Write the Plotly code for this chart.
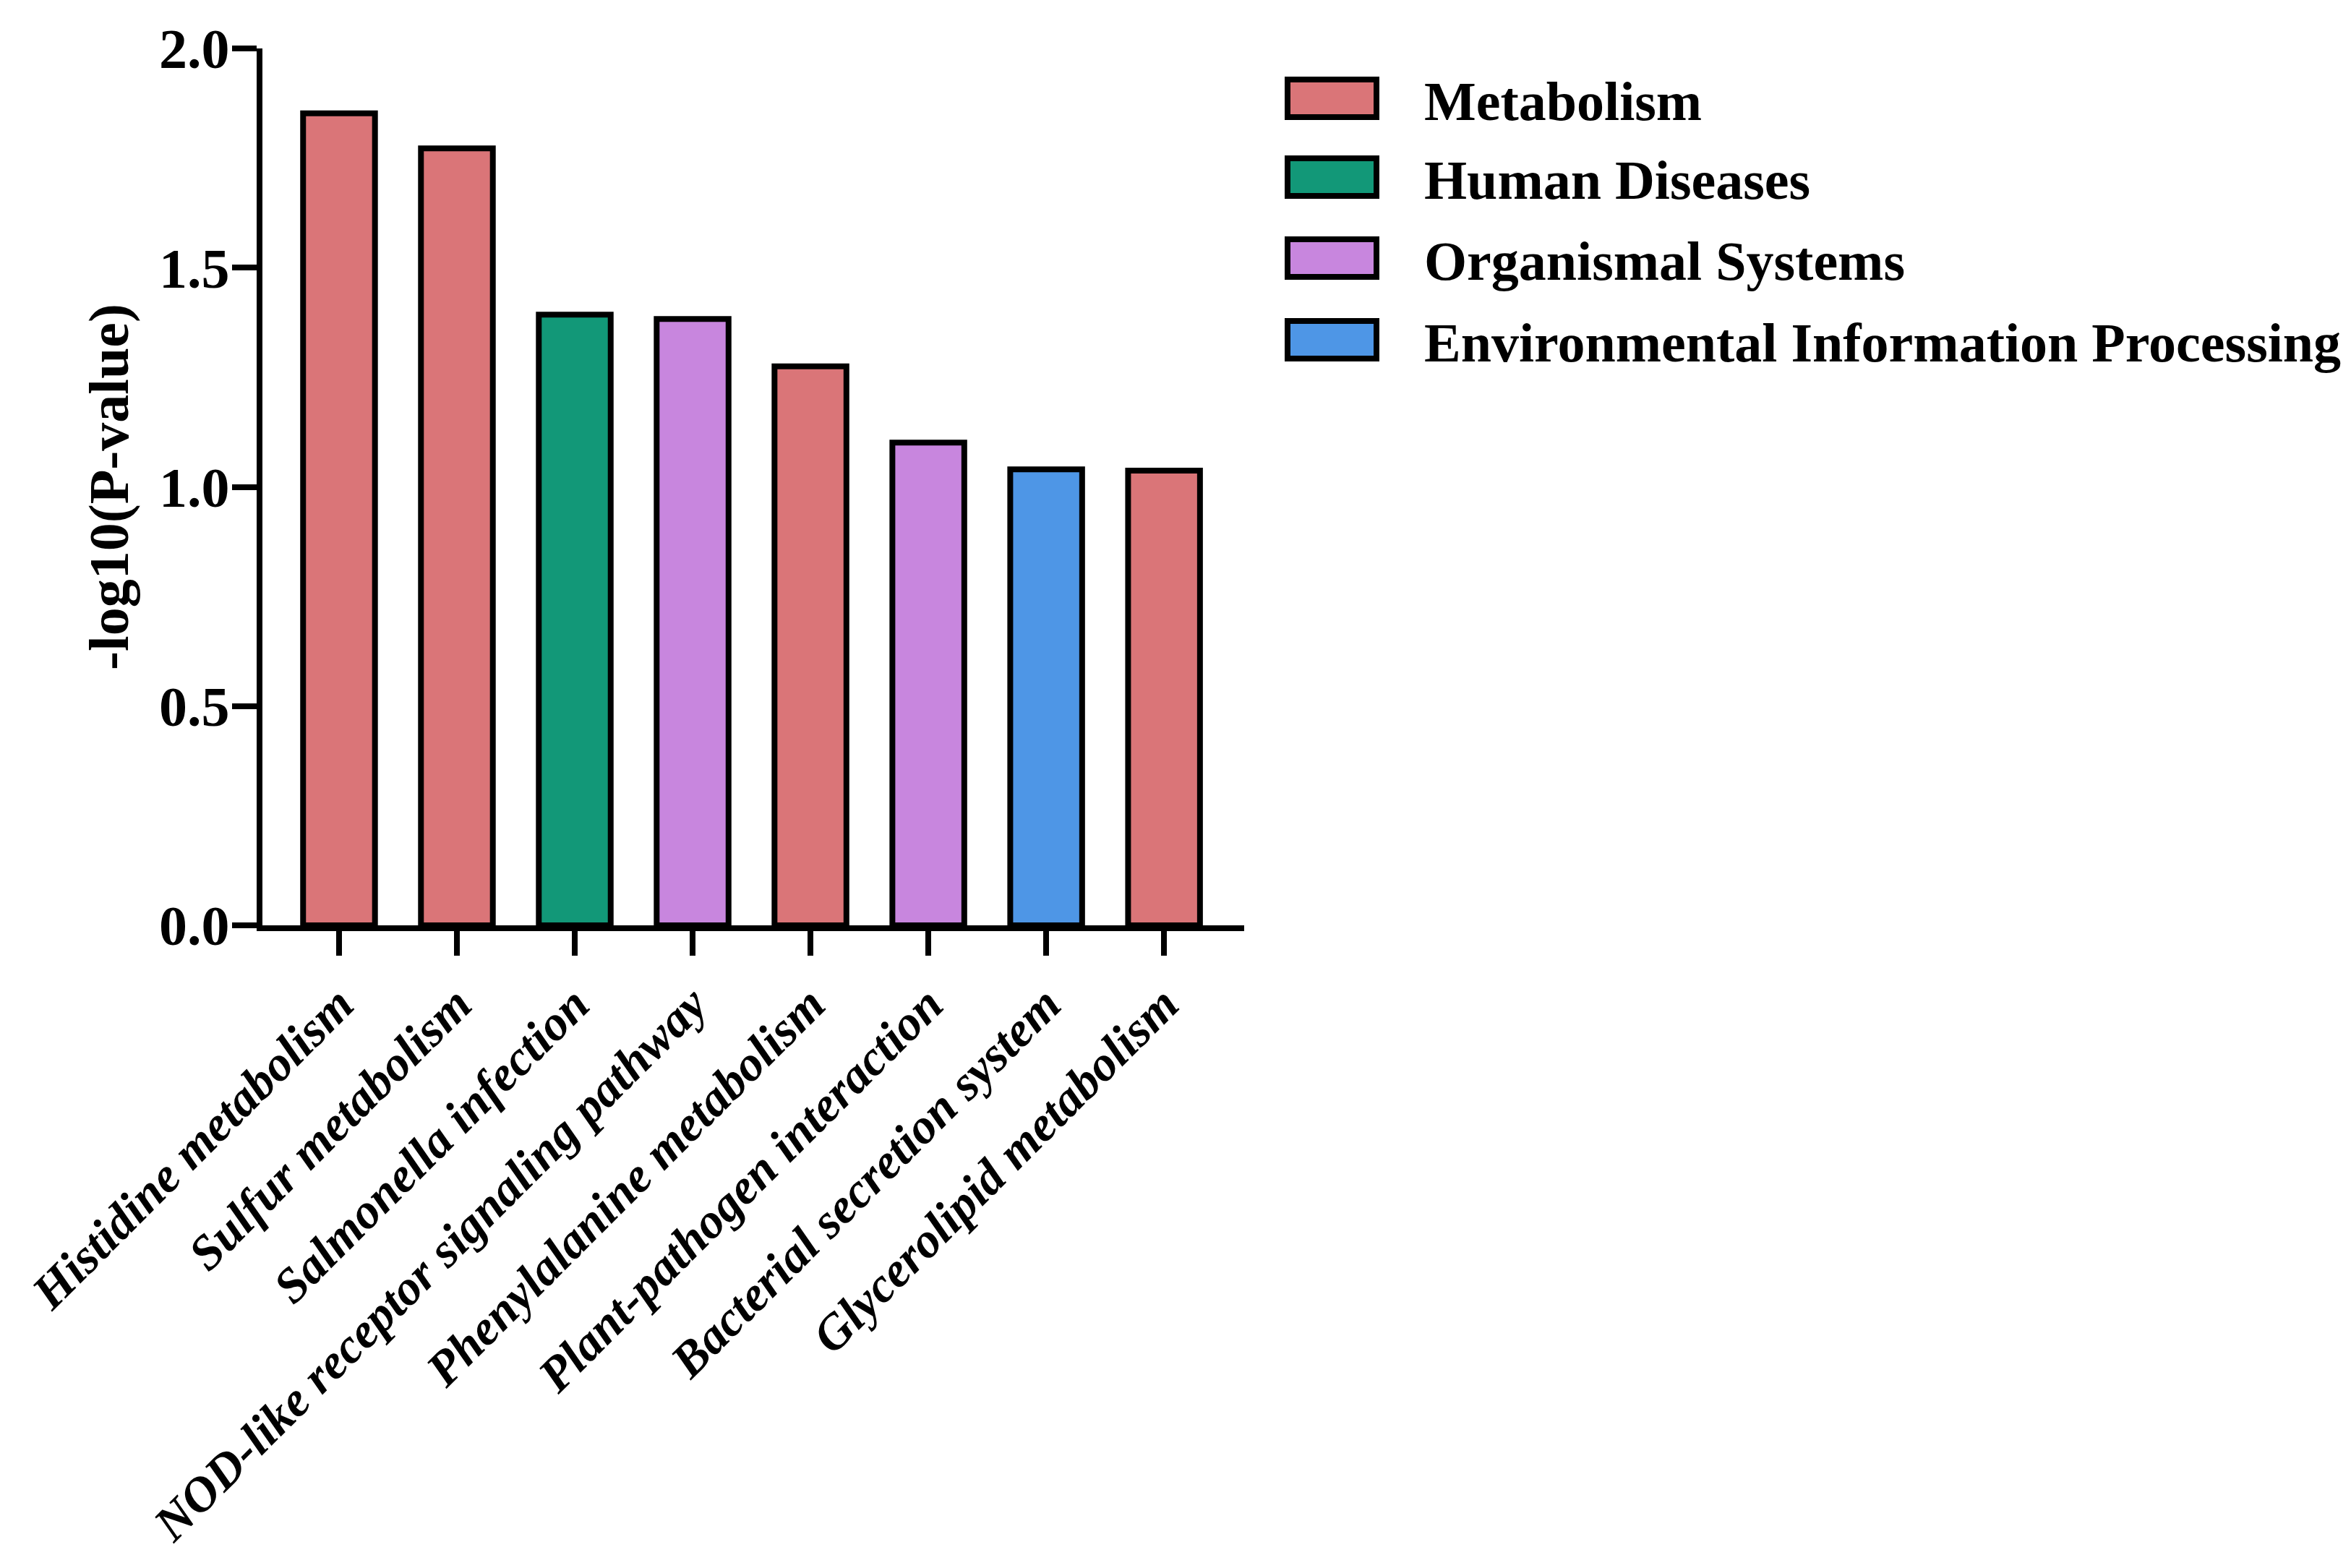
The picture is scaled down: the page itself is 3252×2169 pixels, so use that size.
import plotly.graph_objects as go

# ---------------- data ----------------
pathways = [
    "Histidine metabolism",
    "Sulfur metabolism",
    "Salmonella infection",
    "NOD-like receptor signaling pathway",
    "Phenylalanine metabolism",
    "Plant-pathogen interaction",
    "Bacterial secretion system",
    "Glycerolipid metabolism",
]
neg_log10_p = [1.852, 1.772, 1.393, 1.383, 1.275, 1.101, 1.040, 1.037]
pathway_class = [
    "Metabolism",
    "Metabolism",
    "Human Diseases",
    "Organismal Systems",
    "Metabolism",
    "Organismal Systems",
    "Environmental Information Processing",
    "Metabolism",
]
class_names = ["Metabolism", "Human Diseases", "Organismal Systems",
               "Environmental Information Processing"]
class_colors = ["#DA7578", "#129878", "#C886DE", "#4E96E6"]
y_tick_vals = [0.0, 0.5, 1.0, 1.5, 2.0]
y_tick_text = ["0.0", "0.5", "1.0", "1.5", "2.0"]
y_title = "-log10(P-value)"

# ---------------- layout constants ----------------
W, H = 3252, 2169
PL, PR, PT, PB = 363, 1721, 67, 1280   # plot area in pixels
FONT = "Liberation Serif, Times New Roman, serif"


def px2x(px):
    return (px - PL) / (PR - PL)


def py2y(py):
    return (PB - py) / (PB - PT)


color_of = dict(zip(class_names, class_colors))
bar_colors = [color_of[c] for c in pathway_class]

fig = go.Figure()
fig.add_trace(go.Bar(
    x=pathways,
    y=neg_log10_p,
    marker=dict(color=bar_colors, line=dict(color="black", width=8)),
    width=0.61,
    showlegend=False,
))

# custom legend (large swatches)
shapes = []
annotations = []
row_centers = [136, 245, 357, 470]
for name, col, cy in zip(class_names, class_colors, row_centers):
    shapes.append(dict(
        type="rect", xref="paper", yref="paper",
        x0=px2x(1781), x1=px2x(1904), y0=py2y(cy + 26), y1=py2y(cy - 26),
        fillcolor=col, line=dict(color="black", width=8), layer="above",
    ))
    annotations.append(dict(
        xref="paper", yref="paper", x=px2x(1968), y=py2y(cy + 4),
        xanchor="left", yanchor="middle", text=name, showarrow=False,
        font=dict(family=FONT, size=76, color="black", weight="bold"),
    ))

fig.update_layout(
    width=W, height=H, autosize=False,
    margin=dict(l=PL, r=W - PR, t=PT, b=H - PB, pad=0),
    paper_bgcolor="white", plot_bgcolor="white",
    shapes=shapes, annotations=annotations,
    xaxis=dict(
        type="category", range=[-0.65, 7.68], automargin=False,
        showline=True, linewidth=8, linecolor="black",
        ticks="outside", ticklen=34, tickwidth=8, tickcolor="black",
        tickangle=-45, showgrid=False, zeroline=False,
        ticklabelstandoff=0,
        tickfont=dict(family=FONT, size=68, color="black",
                      weight="bold", style="italic"),
    ),
    yaxis=dict(
        range=[0, 2.0], tickvals=y_tick_vals, ticktext=y_tick_text,
        automargin=False,
        showline=True, linewidth=8, linecolor="black",
        ticks="outside", ticklen=34, tickwidth=8, tickcolor="black",
        showgrid=False, zeroline=False,
        ticklabelstandoff=-12,
        tickfont=dict(family=FONT, size=78, color="black", weight="bold"),
        title=dict(text=y_title, standoff=20,
                   font=dict(family=FONT, size=78, color="black", weight="bold")),
    ),
)

fig.write_html("out.html")
